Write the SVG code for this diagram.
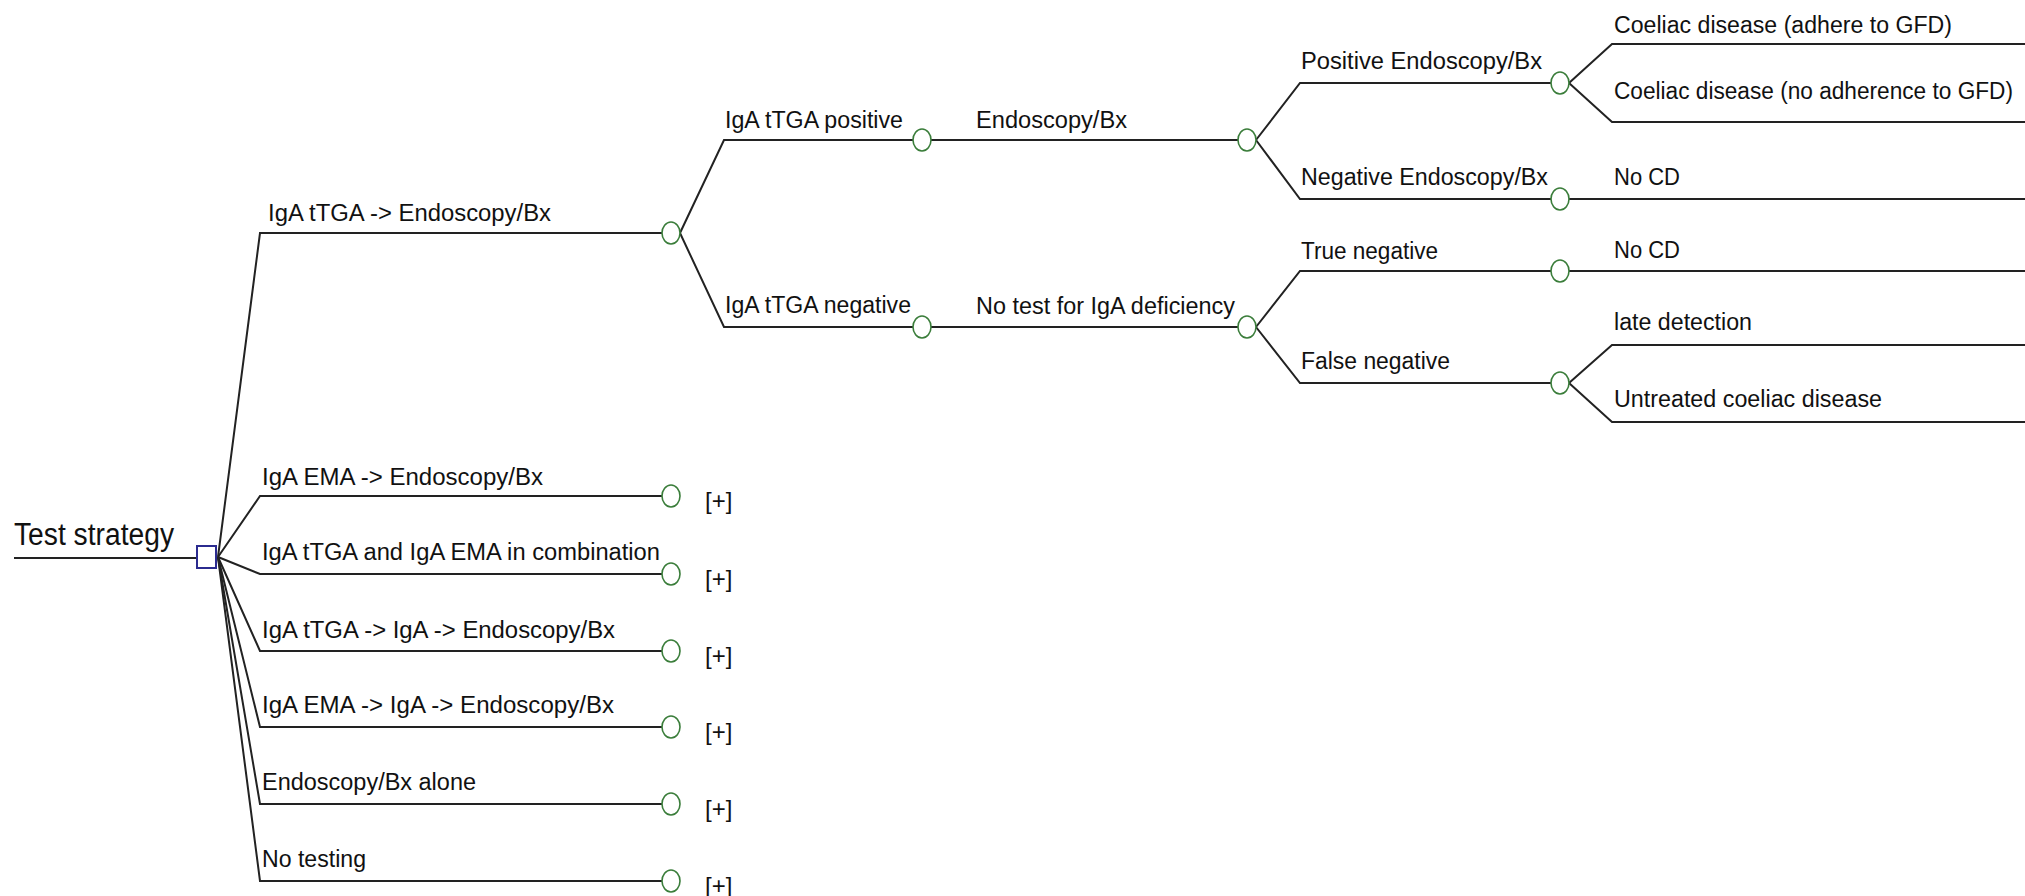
<svg xmlns="http://www.w3.org/2000/svg" width="2025" height="896" viewBox="0 0 2025 896">
<style>
.bg{fill:#ffffff}
.ln{fill:none;stroke:#222222;stroke-width:2;stroke-linejoin:miter}
.ch{fill:#ffffff;stroke:#3a7d3a;stroke-width:1.6}
.dc{fill:#ffffff;stroke:#2b2b8f;stroke-width:2}
.lbl{font-family:"Liberation Sans",Arial,sans-serif;font-size:23px;fill:#111111}
.root{font-family:"Liberation Sans",Arial,sans-serif;font-size:31px;fill:#111111}
.plus{font-family:"Liberation Sans",Arial,sans-serif;font-size:24px;fill:#111111}
</style>
<defs>
<ellipse id="chance" cx="0" cy="0" rx="9" ry="11"/>
</defs>
<rect class="bg" x="0" y="0" width="2025" height="896"/>

<g id="connectors">
  <line class="ln" x1="14" y1="558" x2="197" y2="558"/>
  <polyline class="ln" points="218,557 260,233 662,233"/>
  <polyline class="ln" points="218,557 260,496 662,496"/>
  <polyline class="ln" points="218,557 260,574 662,574"/>
  <polyline class="ln" points="218,557 260,651 662,651"/>
  <polyline class="ln" points="218,557 260,727 662,727"/>
  <polyline class="ln" points="218,557 260,804 662,804"/>
  <polyline class="ln" points="218,557 260,881 662,881"/>
  <polyline class="ln" points="680,233 724,140 913,140"/>
  <polyline class="ln" points="680,233 724,327 913,327"/>
  <line class="ln" x1="931" y1="140" x2="1238" y2="140"/>
  <line class="ln" x1="931" y1="327" x2="1238" y2="327"/>
  <polyline class="ln" points="1256,140 1300,83 1551,83"/>
  <polyline class="ln" points="1256,140 1300,199 1551,199"/>
  <polyline class="ln" points="1256,327 1300,271 1551,271"/>
  <polyline class="ln" points="1256,327 1300,383 1551,383"/>
  <polyline class="ln" points="1569,83 1612,44 2025,44"/>
  <polyline class="ln" points="1569,83 1612,122 2025,122"/>
  <line class="ln" x1="1569" y1="199" x2="2025" y2="199"/>
  <line class="ln" x1="1569" y1="271" x2="2025" y2="271"/>
  <polyline class="ln" points="1569,383 1612,345 2025,345"/>
  <polyline class="ln" points="1569,383 1612,422 2025,422"/>
</g>

<g id="node-test-strategy">
  <rect class="dc" x="197" y="546" width="19" height="22"/>
  <text class="root" x="14" y="545" textLength="160" lengthAdjust="spacingAndGlyphs">Test strategy</text>
</g>

<g id="node-tTGA-endo">
  <use href="#chance" class="ch" x="671" y="233"/>
  <text class="lbl" x="268" y="221" textLength="283" lengthAdjust="spacingAndGlyphs">IgA tTGA -&gt; Endoscopy/Bx</text>
</g>
<g id="node-EMA-endo">
  <use href="#chance" class="ch" x="671" y="496"/>
  <text class="lbl" x="262" y="485" textLength="281" lengthAdjust="spacingAndGlyphs">IgA EMA -&gt; Endoscopy/Bx</text>
  <text class="plus" x="705" y="509">[+]</text>
</g>
<g id="node-combination">
  <use href="#chance" class="ch" x="671" y="574"/>
  <text class="lbl" x="262" y="560" textLength="398" lengthAdjust="spacingAndGlyphs">IgA tTGA and IgA EMA in combination</text>
  <text class="plus" x="705" y="587">[+]</text>
</g>
<g id="node-tTGA-IgA-endo">
  <use href="#chance" class="ch" x="671" y="651"/>
  <text class="lbl" x="262" y="638" textLength="353" lengthAdjust="spacingAndGlyphs">IgA tTGA -&gt; IgA -&gt; Endoscopy/Bx</text>
  <text class="plus" x="705" y="664">[+]</text>
</g>
<g id="node-EMA-IgA-endo">
  <use href="#chance" class="ch" x="671" y="727"/>
  <text class="lbl" x="262" y="713" textLength="352" lengthAdjust="spacingAndGlyphs">IgA EMA -&gt; IgA -&gt; Endoscopy/Bx</text>
  <text class="plus" x="705" y="740">[+]</text>
</g>
<g id="node-endo-alone">
  <use href="#chance" class="ch" x="671" y="804"/>
  <text class="lbl" x="262" y="790" textLength="214" lengthAdjust="spacingAndGlyphs">Endoscopy/Bx alone</text>
  <text class="plus" x="705" y="817">[+]</text>
</g>
<g id="node-no-testing">
  <use href="#chance" class="ch" x="671" y="881"/>
  <text class="lbl" x="262" y="867" textLength="104" lengthAdjust="spacingAndGlyphs">No testing</text>
  <text class="plus" x="705" y="894">[+]</text>
</g>

<g id="node-tTGA-positive">
  <use href="#chance" class="ch" x="922" y="140"/>
  <text class="lbl" x="725" y="128" textLength="178" lengthAdjust="spacingAndGlyphs">IgA tTGA positive</text>
</g>
<g id="node-tTGA-negative">
  <use href="#chance" class="ch" x="922" y="327"/>
  <text class="lbl" x="725" y="313" textLength="186" lengthAdjust="spacingAndGlyphs">IgA tTGA negative</text>
</g>
<g id="node-endoscopy">
  <use href="#chance" class="ch" x="1247" y="140"/>
  <text class="lbl" x="976" y="128" textLength="151" lengthAdjust="spacingAndGlyphs">Endoscopy/Bx</text>
</g>
<g id="node-no-IgA-test">
  <use href="#chance" class="ch" x="1247" y="327"/>
  <text class="lbl" x="976" y="314" textLength="259" lengthAdjust="spacingAndGlyphs">No test for IgA deficiency</text>
</g>
<g id="node-positive-endo">
  <use href="#chance" class="ch" x="1560" y="83"/>
  <text class="lbl" x="1301" y="69" textLength="241" lengthAdjust="spacingAndGlyphs">Positive Endoscopy/Bx</text>
</g>
<g id="node-negative-endo">
  <use href="#chance" class="ch" x="1560" y="199"/>
  <text class="lbl" x="1301" y="185" textLength="247" lengthAdjust="spacingAndGlyphs">Negative Endoscopy/Bx</text>
</g>
<g id="node-true-negative">
  <use href="#chance" class="ch" x="1560" y="271"/>
  <text class="lbl" x="1301" y="259" textLength="137" lengthAdjust="spacingAndGlyphs">True negative</text>
</g>
<g id="node-false-negative">
  <use href="#chance" class="ch" x="1560" y="383"/>
  <text class="lbl" x="1301" y="369" textLength="149" lengthAdjust="spacingAndGlyphs">False negative</text>
</g>

<g id="outcome-cd-adhere">
  <text class="lbl" x="1614" y="33" textLength="338" lengthAdjust="spacingAndGlyphs">Coeliac disease (adhere to GFD)</text>
</g>
<g id="outcome-cd-no-adhere">
  <text class="lbl" x="1614" y="99" textLength="399" lengthAdjust="spacingAndGlyphs">Coeliac disease (no adherence to GFD)</text>
</g>
<g id="outcome-no-cd-1">
  <text class="lbl" x="1614" y="185" textLength="66" lengthAdjust="spacingAndGlyphs">No CD</text>
</g>
<g id="outcome-no-cd-2">
  <text class="lbl" x="1614" y="258" textLength="66" lengthAdjust="spacingAndGlyphs">No CD</text>
</g>
<g id="outcome-late-detection">
  <text class="lbl" x="1614" y="330" textLength="138" lengthAdjust="spacingAndGlyphs">late detection</text>
</g>
<g id="outcome-untreated">
  <text class="lbl" x="1614" y="407" textLength="268" lengthAdjust="spacingAndGlyphs">Untreated coeliac disease</text>
</g>
</svg>
